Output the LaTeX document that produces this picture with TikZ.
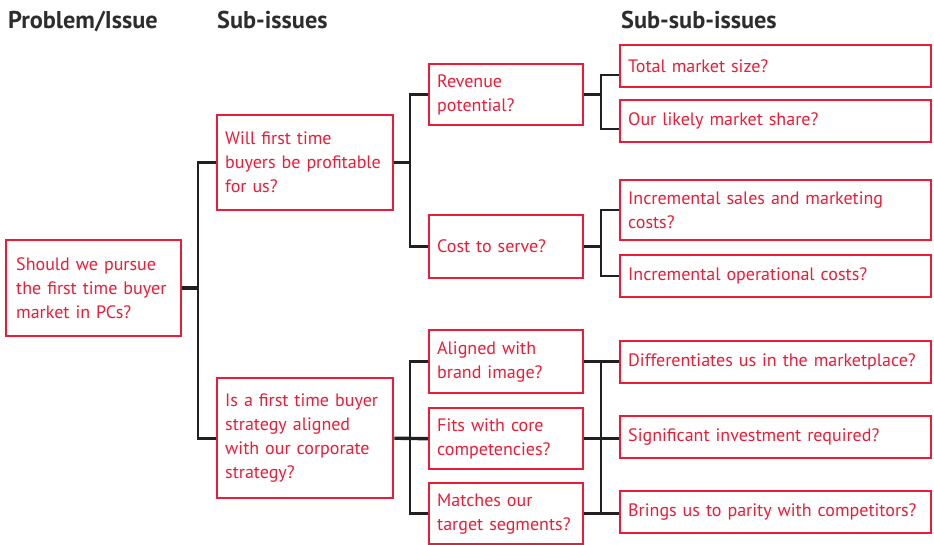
\documentclass[tikz,border=0pt]{standalone}
\usepackage{fontspec}
\setmainfont{PT Sans}
\definecolor{boxred}{RGB}{236,28,56}
\definecolor{linedark}{RGB}{35,31,32}
\definecolor{headdark}{RGB}{45,45,45}
\begin{document}
\begin{tikzpicture}[x=1pt,y=-1pt,
  box/.style={draw=boxred, line width=2.4pt, text=boxred, anchor=north west,
    align=left, inner xsep=8pt, inner ysep=0pt,
    font=\fontsize{18}{24}\selectfont},
  head/.style={text=headdark, anchor=base west, inner sep=0pt,
    font=\fontsize{24.3}{28}\selectfont\bfseries},
  link/.style={draw=linedark, line width=2.6pt, line join=miter},
  stub/.style={link, line width=3.4pt}
]
\useasboundingbox (0,0) rectangle (934,545);

% column headings
\node[head] (h1) at (8,29) {Problem/Issue};
\node[head] (h2) at (217,29) {Sub-issues};
\node[head] (h3) at (621,29) {Sub-sub-issues};

% problem
\node[box, inner xsep=10pt, minimum width=175, minimum height=96, text width=155] (root) at (5,239)
  {Should we pursue\\the first time buyer\\market in PCs?};

% sub-issues
\node[box, minimum width=176, minimum height=95, text width=160] (s1) at (216,114)
  {Will first time\\buyers be profitable\\for us?};
\node[box, minimum width=176, minimum height=120, text width=160] (s2) at (216,377)
  {Is a first time buyer\\strategy aligned\\with our corporate\\strategy?};

% second level
\node[box, minimum width=154, minimum height=61, text width=138] (r1) at (428,63)
  {Revenue\\potential?};
\node[box, minimum width=154, minimum height=63, text width=138] (r2) at (428,214)
  {Cost to serve?};
\node[box, minimum width=154, minimum height=63, text width=138] (a1) at (428,329)
  {Aligned with\\brand image?};
\node[box, minimum width=154, minimum height=61, text width=138] (a2) at (428,407)
  {Fits with core\\competencies?};
\node[box, minimum width=154, minimum height=61, text width=138] (a3) at (428,482)
  {Matches our\\target segments?};

% sub-sub-issues
\node[box, minimum width=311, minimum height=42, text width=295] (t1) at (619,44)
  {Total market size?};
\node[box, minimum width=311, minimum height=42, text width=295] (t2) at (619,99)
  {Our likely market share?};
\node[box, minimum width=311, minimum height=60, text width=295] (t3) at (619,179)
  {Incremental sales and marketing\\costs?};
\node[box, minimum width=311, minimum height=42, text width=295] (t4) at (619,254)
  {Incremental operational costs?};
\node[box, minimum width=311, minimum height=42, text width=295] (t5) at (619,340)
  {Differentiates us in the marketplace?};
\node[box, minimum width=311, minimum height=42, text width=295] (t6) at (619,415)
  {Significant investment required?};
\node[box, minimum width=311, minimum height=42, text width=295] (t7) at (619,490)
  {Brings us to parity with competitors?};

% junction points of the tree
\coordinate (j0) at (198,287);
\coordinate (j1) at (410,162);
\coordinate (j2) at (410,437);
\coordinate (j3) at (601,93.5);
\coordinate (j4) at (601,245.5);
\coordinate (j5) at (601,437);

% problem -> sub-issues
\draw[stub] (root.east) -- (root.east -| j0);
\draw[link] (s1.west) -| (j0) |- (s2.west);

% first sub-issue
\draw[stub] (s1.east) -- (s1.east -| j1);
\draw[link] (r1.west) -| (j1) |- (r2.west);

% second sub-issue
\draw[stub] (s2.east) -- (a2.west);
\draw[link] (a1.west) -| (j2) |- (a3.west);

% revenue potential
\draw[stub] (r1.east) -- (r1.east -| j3);
\draw[link] ([yshift=-9pt]t1.west) -| (j3) |- ([yshift=-8pt]t2.west);

% cost to serve
\draw[stub] (r2.east) -- (r2.east -| j4);
\draw[link] (t3.west) -| (j4) |- (t4.west);

% strategic fit criteria
\draw[link] (a1.east) -- (a1.east -| t5.west);
\draw[link] (a2.east) -- (a2.east -| t6.west);
\draw[link] (a3.east) -- (a3.east -| t7.west);
\draw[link] (j5 |- a1.east) -- (j5 |- a3.east);
\end{tikzpicture}
\end{document}
